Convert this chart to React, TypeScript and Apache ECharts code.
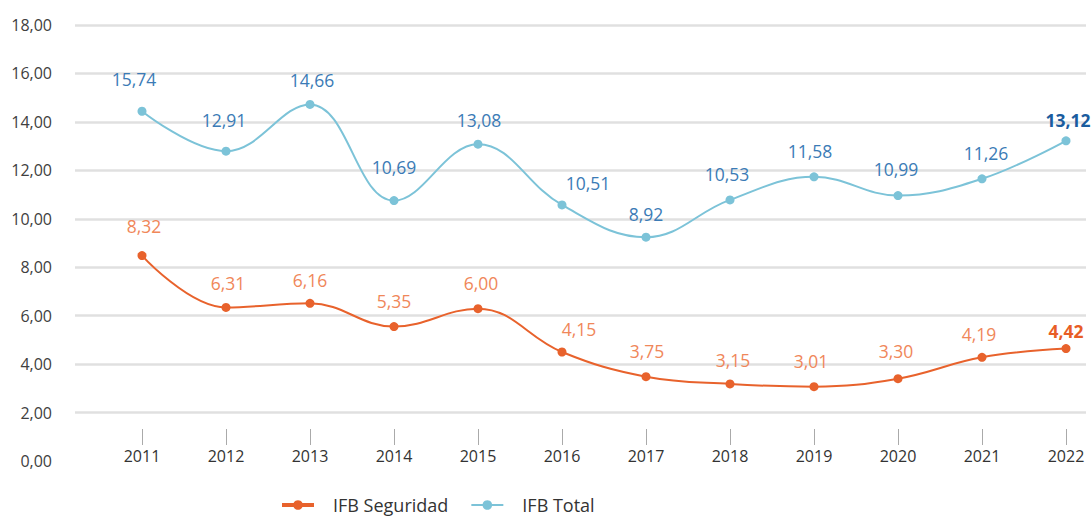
import React, { useEffect, useRef } from "react";
import * as echarts from "echarts";

// Categories (years)
const years = ["2011", "2012", "2013", "2014", "2015", "2016", "2017", "2018", "2019", "2020", "2021", "2022"];

// Plotted positions of the markers as drawn in the reference (axis units)
const totalValues = [14.44, 12.79, 14.72, 10.75, 13.08, 10.57, 9.24, 10.78, 11.73, 10.96, 11.65, 13.22];
const seguridadValues = [8.48, 6.34, 6.51, 5.55, 6.29, 4.5, 3.48, 3.18, 3.07, 3.4, 4.28, 4.64];

// Printed value labels
const totalLabels = ["15,74", "12,91", "14,66", "10,69", "13,08", "10,51", "8,92", "10,53", "11,58", "10,99", "11,26", "13,12"];
const seguridadLabels = ["8,32", "6,31", "6,16", "5,35", "6,00", "4,15", "3,75", "3,15", "3,01", "3,30", "4,19", "4,42"];

// Y axis range
const yMin = 0;
const yMax = 18;
const yStep = 2;

// Label nudges (layout only)
const totalNudge: [number, number][] = [[-8, -7], [-2, -6], [2, 1], [0, -8], [1, 1], [26, 4], [0, 2], [-3, 0], [-4, 0], [-2, -1], [4, 0], [2, 5]];
const seguridadNudge: [number, number][] = [[2, -4], [2, 1], [0, 2], [0, 0], [3, 0], [17, 2], [1, 0], [3, 2], [-3, 0], [-2, -2], [-3, 2], [0, 8]];

const FONT = "'Open Sans', 'Noto Sans', sans-serif";

const TOTAL_LINE = "#7cc3d8";
const TOTAL_TEXT = "#3b7bb6";
const TOTAL_BOLD = "#1a5c9e";
const SEG_LINE = "#e8622c";
const SEG_TEXT = "#f0875a";
const SEG_BOLD = "#e85d25";

function buildData(values: number[], labels: string[], nudge: [number, number][], boldColor: string) {
  return values.map((v, i) => {
    const last = i === values.length - 1;
    const item: any = {
      value: v,
      label: {
        formatter: labels[i],
        offset: nudge[i],
      },
    };
    if (last) {
      item.label.fontWeight = "bold";
      item.label.color = boldColor;
    }
    return item;
  });
}

export default function App() {
  const ref = useRef<HTMLDivElement>(null);

  useEffect(() => {
    if (!ref.current) return;
    const chart = echarts.init(ref.current, undefined, { renderer: "svg" });
    const option: any = {
      animation: false,
      backgroundColor: "#ffffff",
      textStyle: { fontFamily: FONT },
      grid: [
        { left: 75, right: 5, top: 25, bottom: 56 },
        { left: 142, right: 25, top: 25, bottom: 56 },
      ],
      xAxis: [
        { gridIndex: 0, type: "value", show: false, min: 0, max: 1 },
        {
          gridIndex: 1,
          type: "category",
          data: years,
          boundaryGap: false,
          offset: -32,
          axisLine: { show: false },
          axisTick: { show: true, length: 16, lineStyle: { color: "#aaaaaa", width: 1 } },
          axisLabel: { margin: 19, fontSize: 16, color: "#333333", fontFamily: FONT },
          splitLine: { show: false },
        },
      ],
      yAxis: [
        {
          gridIndex: 0,
          type: "value",
          min: yMin,
          max: yMax,
          interval: yStep,
          axisLine: { show: false },
          axisTick: { show: false },
          axisLabel: {
            margin: 23,
            fontSize: 16,
            color: "#404040",
            fontFamily: FONT,
            padding: [0, 0, 8, 0],
            formatter: (v: number) => v.toFixed(2).replace(".", ","),
          },
          splitLine: { show: true, showMinLine: false, lineStyle: { color: "#e0e0e0", width: 2.5 } },
        },
        {
          gridIndex: 1,
          type: "value",
          min: yMin,
          max: yMax,
          interval: yStep,
          show: false,
          splitLine: { show: false },
        },
      ],
      legend: {
        left: 280,
        top: 496,
        padding: 0,
        itemWidth: 32,
        itemHeight: 12,
        itemGap: 22,
        textStyle: { fontSize: 18, color: "#333333", fontFamily: FONT, padding: [0, 0, 0, 14] },
        data: [
          { name: "IFB Seguridad", lineStyle: { width: 4 } },
          { name: "IFB Total", lineStyle: { width: 2 } },
        ],
      },
      series: [
        {
          name: "IFB Seguridad",
          type: "line",
          xAxisIndex: 1,
          yAxisIndex: 1,
          smooth: 0.4,
          symbol: "circle",
          symbolSize: 9,
          color: SEG_LINE,
          lineStyle: { color: SEG_LINE, width: 2 },
          itemStyle: { color: SEG_LINE },
          label: {
            show: true,
            position: "top",
            distance: 12,
            fontSize: 17.5,
            color: SEG_TEXT,
            fontFamily: FONT,
          },
          data: buildData(seguridadValues, seguridadLabels, seguridadNudge, SEG_BOLD),
        },
        {
          name: "IFB Total",
          type: "line",
          xAxisIndex: 1,
          yAxisIndex: 1,
          smooth: 0.4,
          symbol: "circle",
          symbolSize: 9,
          color: TOTAL_LINE,
          lineStyle: { color: TOTAL_LINE, width: 2 },
          itemStyle: { color: TOTAL_LINE },
          label: {
            show: true,
            position: "top",
            distance: 12,
            fontSize: 17.5,
            color: TOTAL_TEXT,
            fontFamily: FONT,
          },
          data: buildData(totalValues, totalLabels, totalNudge, TOTAL_BOLD),
        },
      ],
    };
    chart.setOption(option);
    return () => chart.dispose();
  }, []);

  return (
    <div
      ref={ref}
      style={{ position: "fixed", left: 0, top: 0, width: 1091, height: 517, background: "#ffffff" }}
    />
  );
}
